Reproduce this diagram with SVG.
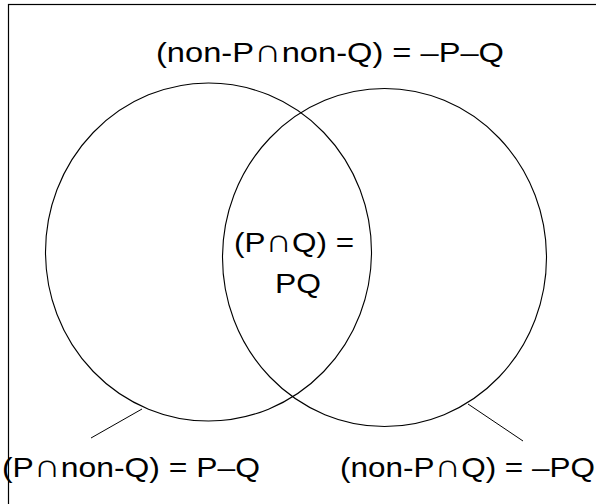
<svg xmlns="http://www.w3.org/2000/svg" width="596" height="504" viewBox="0 0 596 504">
  <style>
    .shape { fill: none; stroke: #000; stroke-width: 1.1; }
    .frame { fill: none; stroke: #000; stroke-width: 1.2; }
    .lbl { font-family: "Liberation Sans", Arial, sans-serif; font-size: 28px; fill: #000; }
    .cap { font-size: 33px; }
    .conn { stroke: #000; stroke-width: 1; fill: none; }
  </style>
  <rect width="596" height="504" fill="#fff"/>
  <rect class="frame" x="8.5" y="4.5" width="600" height="520"/>
  <g id="circle-p">
    <ellipse class="shape" cx="208.5" cy="252" rx="163" ry="169"/>
  </g>
  <g id="circle-q">
    <ellipse class="shape" cx="384.5" cy="257.5" rx="162" ry="169"/>
  </g>
  <g id="label-neither">
    <text class="lbl" x="156" y="62" textLength="348" lengthAdjust="spacingAndGlyphs">(non-P<tspan class="cap">∩</tspan>non-Q)  = –P–Q</text>
  </g>
  <g id="label-both">
    <text class="lbl" x="234" y="252" textLength="120" lengthAdjust="spacingAndGlyphs">(P<tspan class="cap">∩</tspan>Q) =</text>
    <text class="lbl" x="275" y="293" textLength="46" lengthAdjust="spacingAndGlyphs">PQ</text>
  </g>
  <g id="label-p-only">
    <text class="lbl" x="2" y="477" textLength="258" lengthAdjust="spacingAndGlyphs">(P<tspan class="cap">∩</tspan>non-Q) = P–Q</text>
  </g>
  <g id="label-q-only">
    <text class="lbl" x="340" y="477" textLength="255" lengthAdjust="spacingAndGlyphs">(non-P<tspan class="cap">∩</tspan>Q) = –PQ</text>
  </g>
  <g id="connectors">
    <line class="conn" x1="142" y1="409" x2="91" y2="438"/>
    <line class="conn" x1="468" y1="404" x2="523" y2="441"/>
  </g>
</svg>
